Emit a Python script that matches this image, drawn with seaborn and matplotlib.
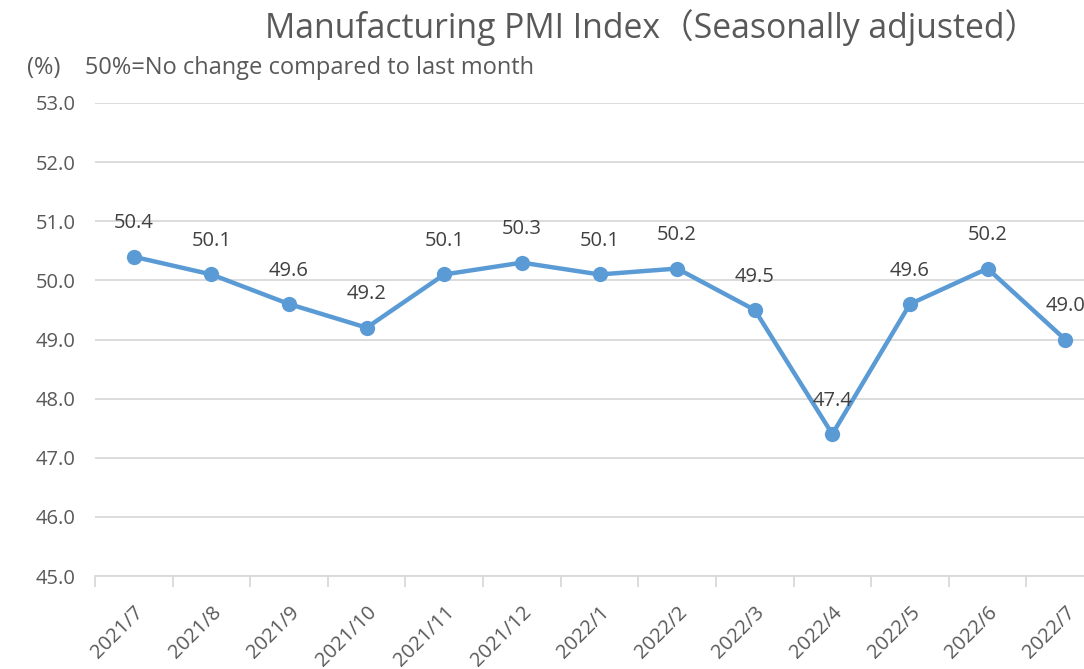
import numpy as np
import pandas as pd
import matplotlib.pyplot as plt
import seaborn as sns

months = ['2021/7', '2021/8', '2021/9', '2021/10', '2021/11', '2021/12',
          '2022/1', '2022/2', '2022/3', '2022/4', '2022/5', '2022/6', '2022/7']
pmi = [50.4, 50.1, 49.6, 49.2, 50.1, 50.3, 50.1, 50.2, 49.5, 47.4, 49.6, 50.2, 49.0]
y_ticks = [45, 46, 47, 48, 49, 50, 51, 52, 53]

df = pd.DataFrame({'month': months, 'pmi': pmi})

sns.set_style('white')
plt.rcParams['font.family'] = ['Open Sans', 'Noto Sans CJK JP', 'DejaVu Sans']

text_col = '#595959'
line_col = '#5B9BD5'
grid_col = '#D9D9D9'

fig = plt.figure(figsize=(10.84, 6.69), dpi=100)
# plot area runs a little past the right edge, like the reference crop
ax = fig.add_axes([95 / 1084, 1 - 576 / 669, 1009 / 1084, (576 - 103) / 669])

sns.lineplot(data=df, x='month', y='pmi', sort=False, ax=ax, color=line_col,
             linewidth=3.2, marker='o', markersize=11, markeredgewidth=0)

ax.set_xlim(-0.5, len(months) - 0.5)
ax.set_ylim(45, 53)
ax.set_yticks(y_ticks)
ax.set_yticklabels(['{:.1f}'.format(v) for v in y_ticks])
ax.grid(axis='y', color=grid_col, linewidth=1.3)
ax.set_axisbelow(True)

ax.set_xticks(range(len(months)))
ax.set_xticklabels(months, rotation=45, ha='right', rotation_mode='anchor')
ax.set_xticks(np.arange(-0.5, len(months), 1), minor=True)
ax.tick_params(axis='x', which='major', bottom=False, length=0, pad=19,
               labelsize=14.5, labelcolor=text_col)
ax.tick_params(axis='x', which='minor', bottom=True, length=8, width=1.3,
               color=grid_col, direction='out')
ax.tick_params(axis='y', length=0, pad=14, labelsize=14.5, labelcolor=text_col)

for s in ['top', 'right', 'left']:
    ax.spines[s].set_visible(False)
ax.spines['bottom'].set_color(grid_col)
ax.spines['bottom'].set_linewidth(1.3)

ax.set_xlabel('')
ax.set_ylabel('')

for i, v in enumerate(pmi):
    ax.annotate('{:.1f}'.format(v), (i, v), xytext=(0, 24), textcoords='offset points',
                ha='center', va='center', fontsize=14.5, color='#404040')

fig.text(652 / 1084, 1 - 28 / 669, 'Manufacturing PMI Index（Seasonally adjusted）',
         ha='center', va='center', fontsize=24.3, color=text_col)
fig.text(27 / 1084, 1 - 68 / 669, '(%)    50%=No change compared to last month',
         ha='left', va='center', fontsize=17, color=text_col)

fig.savefig('out.png', dpi=100)
